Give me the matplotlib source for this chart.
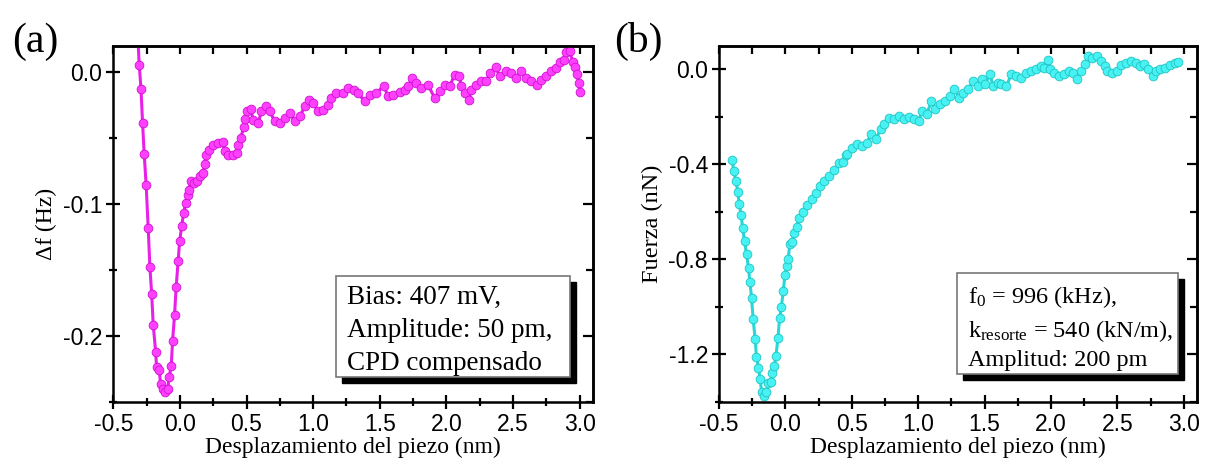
import numpy as np
import matplotlib
matplotlib.use("Agg")
import matplotlib.pyplot as plt
from matplotlib.patches import Rectangle
from matplotlib.ticker import MultipleLocator, FormatStrFormatter
import matplotlib.transforms as mtransforms

plt.rcParams['font.family'] = ['Liberation Sans', 'DejaVu Sans']
plt.rcParams['mathtext.fontset'] = 'custom'
plt.rcParams['mathtext.rm'] = 'Liberation Serif'
plt.rcParams['mathtext.it'] = 'Liberation Serif:italic'

# panel (a): frequency shift vs piezo displacement
xa = [-0.318, -0.305, -0.292, -0.280, -0.268, -0.253, -0.238, -0.225, -0.212, -0.200,
      -0.182, -0.175, -0.155, -0.145, -0.130, -0.110, -0.092, -0.080, -0.065, -0.055,
      -0.040, -0.028, -0.013, -0.002, 0.013, 0.028, 0.043, 0.058, 0.070, 0.080,
      0.103, 0.127, 0.152, 0.172, 0.187, 0.195, 0.220, 0.250, 0.287, 0.320,
      0.337, 0.362, 0.400, 0.425, 0.437, 0.455, 0.480, 0.492, 0.505, 0.530,
      0.550, 0.587, 0.612, 0.645, 0.675, 0.712, 0.750, 0.787, 0.825, 0.862,
      0.900, 0.937, 0.967, 1.000, 1.037, 1.075, 1.112, 1.137, 1.175, 1.224,
      1.262, 1.305, 1.337, 1.387, 1.425, 1.475, 1.530, 1.562, 1.600, 1.649,
      1.687, 1.711, 1.744, 1.774, 1.812, 1.862, 1.912, 1.949, 1.987, 2.024,
      2.062, 2.094, 2.112, 2.137, 2.169, 2.187, 2.224, 2.262, 2.299, 2.329,
      2.369, 2.399, 2.444, 2.486, 2.524, 2.561, 2.599, 2.636, 2.678, 2.711,
      2.749, 2.786, 2.824, 2.849, 2.879, 2.899, 2.924, 2.948, 2.967, 2.978,
      2.993, 3.004]
ya = [0.030, 0.0055, -0.0129, -0.039, -0.062, -0.086, -0.118, -0.148, -0.168, -0.192,
      -0.212, -0.224, -0.226, -0.2365, -0.2405, -0.243, -0.2405, -0.231, -0.223, -0.204,
      -0.184, -0.163, -0.143, -0.1285, -0.117, -0.107, -0.0994, -0.0936, -0.0893, -0.083,
      -0.0838, -0.083, -0.079, -0.0766, -0.0698, -0.0627, -0.059, -0.0557, -0.0539, -0.0527,
      -0.0602, -0.0627, -0.0627, -0.0615, -0.0552, -0.0501, -0.0417, -0.0357, -0.0294, -0.028,
      -0.036, -0.0387, -0.0299, -0.0256, -0.0299, -0.0375, -0.0387, -0.0349, -0.0311, -0.0375,
      -0.0337, -0.0261, -0.0215, -0.0235, -0.0299, -0.0286, -0.0248, -0.0197, -0.0159, -0.0159,
      -0.0121, -0.0134, -0.0159, -0.0223, -0.0172, -0.0159, -0.0104, -0.0185, -0.0172, -0.0155,
      -0.0134, -0.0109, -0.0046, -0.0083, -0.0121, -0.0096, -0.0197, -0.0147, -0.0096, -0.0109,
      -0.0020, -0.0028, -0.0109, -0.0159, -0.0210, -0.0134, -0.0096, -0.0071, -0.0071, -0.0008,
      0.0042, -0.0033, 0.0005, -0.0008, -0.0046, 0.0005, -0.0046, -0.0071, -0.0096, -0.0058,
      -0.0033, 0.0005, 0.0030, 0.0080, 0.0093, 0.0149, 0.0156, 0.0080, 0.0042, -0.0015,
      -0.0083, -0.0155]

# panel (b): force vs piezo displacement
xb = [-0.400, -0.390, -0.373, -0.358, -0.348, -0.333, -0.323, -0.308, -0.293, -0.278,
      -0.268, -0.255, -0.243, -0.228, -0.218, -0.203, -0.191, -0.178, -0.161, -0.143,
      -0.128, -0.111, -0.101, -0.083, -0.071, -0.056, -0.044, -0.031, -0.016, -0.004,
      0.009, 0.021, 0.033, 0.051, 0.063, 0.086, 0.101, 0.131, 0.160, 0.201,
      0.231, 0.261, 0.293, 0.330, 0.368, 0.405, 0.435, 0.455, 0.467, 0.505,
      0.542, 0.579, 0.617, 0.642, 0.680, 0.717, 0.742, 0.779, 0.816, 0.854,
      0.891, 0.929, 0.966, 1.003, 1.028, 1.066, 1.098, 1.128, 1.166, 1.203,
      1.240, 1.273, 1.308, 1.340, 1.377, 1.415, 1.452, 1.477, 1.502, 1.540,
      1.564, 1.602, 1.627, 1.664, 1.701, 1.739, 1.776, 1.813, 1.851, 1.888,
      1.926, 1.951, 1.976, 1.996, 2.026, 2.063, 2.101, 2.138, 2.163, 2.195,
      2.225, 2.255, 2.280, 2.312, 2.350, 2.380, 2.405, 2.425, 2.462, 2.500,
      2.530, 2.562, 2.599, 2.637, 2.670, 2.700, 2.729, 2.769, 2.794, 2.824,
      2.861, 2.898, 2.936, 2.953]
yb = [-0.382, -0.428, -0.470, -0.517, -0.566, -0.615, -0.667, -0.723, -0.779, -0.835,
      -0.894, -0.961, -1.053, -1.134, -1.211, -1.256, -1.305, -1.361, -1.376, -1.361,
      -1.323, -1.319, -1.280, -1.249, -1.207, -1.130, -1.048, -1.003, -0.933, -0.867,
      -0.828, -0.800, -0.734, -0.727, -0.691, -0.664, -0.624, -0.601, -0.573, -0.547,
      -0.519, -0.491, -0.470, -0.449, -0.424, -0.393, -0.390, -0.362, -0.358, -0.330,
      -0.316, -0.323, -0.309, -0.274, -0.295, -0.253, -0.232, -0.203, -0.211, -0.197,
      -0.211, -0.199, -0.211, -0.218, -0.176, -0.189, -0.133, -0.168, -0.147, -0.133,
      -0.112, -0.081, -0.119, -0.098, -0.084, -0.049, -0.070, -0.042, -0.063, -0.021,
      -0.070, -0.056, -0.063, -0.070, -0.021, -0.028, -0.035, -0.014, -0.007, 0.000,
      0.014, 0.007, 0.039, 0.000, -0.014, -0.028, -0.021, -0.007, -0.014, -0.039,
      -0.007, 0.021, 0.056, 0.049, 0.056, 0.035, 0.014, -0.007, -0.014, -0.007,
      0.017, 0.028, 0.035, 0.028, 0.014, 0.021, 0.000, -0.028, -0.007, 0.000,
      0.007, 0.017, 0.028, 0.031]

box_a = ["Bias: 407 mV,", "Amplitude: 50 pm,", "CPD compensado"]
box_b = [r"f$_0$ = 996 (kHz),", r"k$_{\mathrm{resorte}}$ = 540 (kN/m),", "Amplitud: 200 pm"]

fig = plt.figure(figsize=(12.05, 4.69), dpi=100)
ax1 = fig.add_axes([0.0940, 0.1435, 0.3981, 0.7591])
ax2 = fig.add_axes([0.5967, 0.1435, 0.3967, 0.7591])

serif = ['Liberation Serif', 'DejaVu Serif']


def style(ax, ymaj, ymin):
    for s in ax.spines.values():
        s.set_linewidth(1.8)
    ax.xaxis.set_major_locator(MultipleLocator(0.5))
    ax.xaxis.set_minor_locator(MultipleLocator(0.25))
    ax.yaxis.set_major_locator(MultipleLocator(ymaj))
    ax.yaxis.set_minor_locator(MultipleLocator(ymin))
    ax.tick_params(which='both', direction='inout', width=1.6, labelsize=16.5, pad=3)
    ax.tick_params(which='major', length=10)
    ax.tick_params(which='minor', length=6)
    ax.set_xlim(-0.5, 3.1)
    ax.xaxis.set_major_formatter(FormatStrFormatter('%.1f'))
    ax.yaxis.set_major_formatter(FormatStrFormatter('%.1f'))
    # top and right: ticks pointing inward only
    top = ax.secondary_xaxis('top')
    top.xaxis.set_major_locator(MultipleLocator(0.5))
    top.xaxis.set_minor_locator(MultipleLocator(0.25))
    top.tick_params(which='both', direction='in', width=1.6, length=6, labeltop=False)
    right = ax.secondary_yaxis('right')
    right.yaxis.set_major_locator(MultipleLocator(ymaj))
    right.yaxis.set_minor_locator(MultipleLocator(ymin))
    right.tick_params(which='major', direction='in', width=1.6, length=7, labelright=False)
    right.tick_params(which='minor', direction='in', width=1.6, length=5, labelright=False)
    for sec in (top, right):
        for s in sec.spines.values():
            s.set_linewidth(1.8)


def infobox(ax, x0, y0, x1, y1, lines, ys, tx, fs):
    off = mtransforms.offset_copy(ax.transAxes, fig=fig, x=6, y=-6, units='dots')
    ax.add_patch(Rectangle((x0, y0), x1 - x0, y1 - y0, transform=off,
                           facecolor='black', edgecolor='black', zorder=5))
    ax.add_patch(Rectangle((x0, y0), x1 - x0, y1 - y0, transform=ax.transAxes,
                           facecolor='white', edgecolor='#777777', lw=1.2, zorder=6))
    for t, yy in zip(lines, ys):
        ax.text(tx, yy, t, transform=ax.transAxes, fontsize=fs, family=serif,
                va='center', ha='left', zorder=7)


# (a)
ax1.plot(xa, ya, '-', color='#e820e8', lw=2.2, marker='o', ms=6.3,
         mfc='#ff40ff', mec='#d010d0', mew=0.6, clip_on=True)
style(ax1, 0.1, 0.05)
ax1.set_ylim(-0.25, 0.02)
ax1.set_xlabel("Desplazamiento del piezo (nm)", fontsize=17, family=serif, labelpad=1)
ax1.set_ylabel("Δf (Hz)", fontsize=17, family=serif, labelpad=4)
infobox(ax1, 0.464, 0.0685, 0.953, 0.353, box_a, [0.294, 0.200, 0.106], 0.487, 19.5)
fig.text(0.010, 0.912, "(a)", fontsize=30, family=serif, ha='left', va='center')

# (b)
ax2.plot(xb, yb, '-', color='#28d8d8', lw=2.2, marker='o', ms=6.3,
         mfc='#48f2f2', mec='#20c4c4', mew=0.6, clip_on=True)
style(ax2, 0.4, 0.2)
ax2.set_ylim(-1.4, 0.1)
ax2.set_xlabel("Desplazamiento del piezo (nm)", fontsize=17, family=serif, labelpad=1)
ax2.set_ylabel("Fuerza (nN)", fontsize=17.5, family=serif, labelpad=4)
infobox(ax2, 0.497, 0.078, 0.960, 0.3615, box_b, [0.295, 0.198, 0.115], 0.52, 17.5)
fig.text(0.510, 0.912, "(b)", fontsize=30, family=serif, ha='left', va='center')

fig.savefig("out.png", dpi=100)
